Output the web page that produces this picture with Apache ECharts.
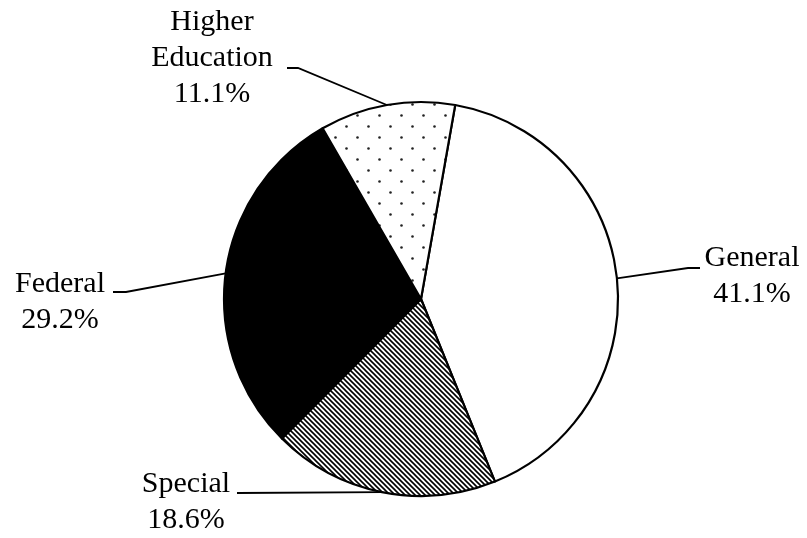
<!DOCTYPE html>
<html>
<head>
<meta charset="utf-8">
<script src="https://cdn.jsdelivr.net/npm/echarts@6/dist/echarts.min.js"></script>
<style>
html,body{margin:0;padding:0;background:#fff;}
#chart{width:807px;height:538px;}
</style>
</head>
<body>
<div id="chart"></div>
<script>
// ---- data ----
var categories = ['General', 'Special', 'Federal', 'Higher Education'];
var shares = [41.1, 18.6, 29.2, 11.1];

// ---- styling / layout (not data) ----
var fills = ['white', 'hatch', 'black', 'dots'];
var labelAnchor = [[752, 276], [186, 502], [60, 302], [212, 58]];
var labelElbow = [[688, 268], null, [126, 292], [298, 68]];
var labelEnd = [[700, 268], [237, 493], [113, 292], [287, 68]];

function makeDots() {
  var c = document.createElement('canvas');
  c.width = 22; c.height = 22;
  var g = c.getContext('2d');
  g.fillStyle = '#fff'; g.fillRect(0, 0, 22, 22);
  g.fillStyle = '#222';
  g.beginPath(); g.arc(5.5, 5.5, 1.3, 0, Math.PI * 2); g.fill();
  g.beginPath(); g.arc(16.5, 16.5, 1.3, 0, Math.PI * 2); g.fill();
  return c;
}
function makeHatch() {
  var s = 5;
  var c = document.createElement('canvas');
  c.width = s; c.height = s;
  var g = c.getContext('2d');
  g.fillStyle = '#fff'; g.fillRect(0, 0, s, s);
  g.strokeStyle = '#000'; g.lineWidth = 1.6;
  g.beginPath();
  g.moveTo(-1, -1); g.lineTo(s + 1, s + 1);
  g.moveTo(-1, s - 1); g.lineTo(1, s + 1);
  g.moveTo(s - 1, -1); g.lineTo(s + 1, 1);
  g.stroke();
  return c;
}
var patterns = {
  white: '#ffffff',
  black: '#000000',
  dots: { image: makeDots(), repeat: 'repeat' },
  hatch: { image: makeHatch(), repeat: 'repeat' }
};

var data = categories.map(function (name, i) {
  return { name: name, value: shares[i], itemStyle: { color: patterns[fills[i]] } };
});

var chart = echarts.init(document.getElementById('chart'), null, { renderer: 'canvas' });
chart.setOption({
  animation: false,
  backgroundColor: '#ffffff',
  series: [{
    type: 'pie',
    center: [421, 299],
    radius: 197,
    startAngle: 80,
    clockwise: true,
    data: data,
    itemStyle: { borderColor: '#000', borderWidth: 2.2 },
    emphasis: { disabled: true },
    label: {
      show: true,
      position: 'outside',
      fontFamily: 'Liberation Serif',
      fontSize: 30,
      lineHeight: 36,
      color: '#000',
      align: 'center',
      formatter: function (p) {
        return p.name.replace(' ', '\n') + '\n' + p.value.toFixed(1) + '%';
      }
    },
    labelLine: {
      show: true,
      length: 20,
      length2: 10,
      lineStyle: { color: '#000', width: 1.8 }
    },
    labelLayout: function (params) {
      var i = params.dataIndex;
      var start = params.labelLinePoints ? params.labelLinePoints[0] : labelEnd[i];
      var pts = [start];
      if (labelElbow[i]) pts.push(labelElbow[i]);
      pts.push(labelEnd[i]);
      return {
        x: labelAnchor[i][0],
        y: labelAnchor[i][1],
        align: 'center',
        verticalAlign: 'middle',
        labelLinePoints: pts
      };
    }
  }]
});
</script>
</body>
</html>
